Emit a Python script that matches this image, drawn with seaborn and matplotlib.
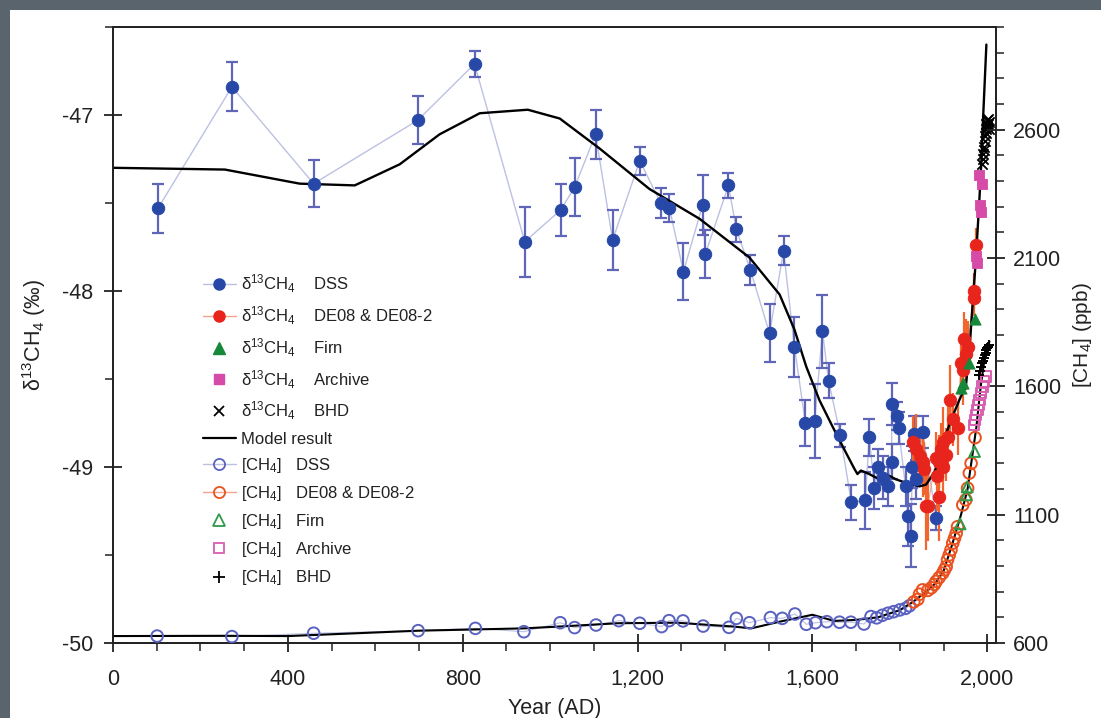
import numpy as np
import pandas as pd
import matplotlib
matplotlib.use("Agg")
import matplotlib.pyplot as plt
import seaborn as sns
from matplotlib.lines import Line2D
from matplotlib.patches import Rectangle
from matplotlib.ticker import MultipleLocator, FixedLocator, FuncFormatter

# ---------------- data ----------------
# delta13C DSS (filled blue circles)
dss_year = [103, 272, 459, 697, 827, 942, 1024, 1056, 1104, 1143, 1205, 1253, 1273, 1305,
            1349, 1355, 1408, 1426, 1458, 1502, 1534, 1559, 1584, 1605, 1623, 1637, 1664,
            1689, 1721, 1730, 1742, 1750, 1762, 1772, 1781, 1782, 1793, 1797, 1813, 1818,
            1826, 1828, 1832, 1837, 1852, 1883]
dss_d13c = [-47.53, -46.84, -47.39, -47.03, -46.71, -47.72, -47.54, -47.41, -47.11, -47.71,
            -47.26, -47.50, -47.53, -47.89, -47.51, -47.79, -47.40, -47.65, -47.88, -48.24,
            -47.77, -48.32, -48.75, -48.74, -48.23, -48.51, -48.82, -49.20, -49.19, -48.83,
            -49.12, -49.00, -49.06, -49.11, -48.97, -48.64, -48.71, -48.78, -49.11, -49.28,
            -49.39, -49.00, -48.81, -49.07, -48.80, -49.29]
dss_err = [0.14, 0.14, 0.135, 0.137, 0.074, 0.20, 0.15, 0.165, 0.14, 0.17, 0.08, 0.085,
           0.08, 0.16, 0.17, 0.135, 0.07, 0.07, 0.085, 0.165, 0.08, 0.17, 0.13, 0.21, 0.21,
           0.10, 0.065, 0.10, 0.16, 0.105, 0.12, 0.10, 0.12, 0.11, 0.10, 0.12, 0.08, 0.09,
           0.11, 0.17, 0.18, 0.12, 0.10, 0.11, 0.09, 0.07]

# delta13C DE08 & DE08-2 (filled red circles)
de08_year = [1829, 1837, 1845, 1852, 1856, 1860, 1864, 1883, 1886, 1889, 1890, 1894, 1898,
             1898, 1905, 1911, 1915, 1921, 1932, 1940, 1944, 1947, 1951, 1955, 1970, 1970, 1974]
de08_d13c = [-48.86, -48.90, -48.94, -48.97, -49.01, -49.22, -49.22, -48.95, -49.05, -48.97,
             -49.17, -48.90, -48.86, -49.00, -48.93, -48.83, -48.62, -48.73, -48.78, -48.41,
             -48.45, -48.27, -48.36, -48.32, -48.00, -48.04, -47.74]
de08_err = [0.15, 0.20, 0.15, 0.20, 0.15, 0.25, 0.20, 0.15, 0.20, 0.15, 0.25, 0.15, 0.20,
            0.15, 0.15, 0.20, 0.20, 0.15, 0.15, 0.15, 0.20, 0.15, 0.20, 0.15, 0.10, 0.10, 0.10]

# delta13C Firn (filled green triangles)
firn_year = [1940, 1944, 1958, 1973]
firn_d13c = [-48.55, -48.52, -48.41, -48.16]

# delta13C Archive (filled pink squares)
arch_year = [1974, 1976, 1982, 1984, 1985, 1989]
arch_d13c = [-47.80, -47.84, -47.34, -47.51, -47.55, -47.39]

# delta13C BHD (black x)
bhd_year = [1989, 1990, 1991, 1992, 1993, 1994, 1995, 1996, 1997, 1998, 1999, 2000, 2001,
            2002, 2003, 2004]
bhd_d13c = [-47.28, -47.25, -47.22, -47.20, -47.18, -47.15, -47.12, -47.10, -47.08, -47.05,
            -47.03, -47.06, -47.02, -47.05, -47.08, -47.04]

# Model result delta13C
mod_year = [0, 256, 427, 553, 656, 747, 839, 949, 1022, 1113, 1227, 1342, 1456, 1525, 1559,
            1586, 1616, 1646, 1677, 1696, 1703, 1711, 1730, 1753, 1776, 1791, 1814, 1845,
            1860, 1879, 1890, 1906, 1921, 1936, 1951, 1959, 1966, 1974, 1982, 1986, 1989, 1998]
mod_d13c = [-47.30, -47.31, -47.39, -47.40, -47.28, -47.11, -46.99, -46.97, -47.02, -47.19,
            -47.42, -47.59, -47.81, -48.02, -48.22, -48.43, -48.62, -48.77, -48.92, -49.01,
            -49.04, -49.02, -49.04, -49.07, -49.05, -49.07, -49.09, -49.11, -49.10, -49.03,
            -48.96, -48.81, -48.71, -48.62, -48.54, -48.35, -48.09, -47.82, -47.48, -47.29,
            -47.10, -46.60]

# [CH4] DSS (open blue circles)
ch4_dss_year = [101, 272, 459, 698, 829, 940, 1023, 1056, 1105, 1157, 1205, 1255, 1272, 1304,
                1350, 1409, 1426, 1456, 1504, 1531, 1560, 1586, 1607, 1633, 1662, 1688, 1718,
                1734, 1747, 1760, 1773, 1786, 1800, 1813, 1822]
ch4_dss = [627, 625, 638, 648, 657, 644, 679, 660, 670, 687, 677, 664, 687, 686, 666, 661,
           696, 679, 699, 696, 713, 673, 679, 683, 681, 681, 674, 703, 698, 708, 716, 722,
           729, 735, 745]

# [CH4] DE08 & DE08-2 (open red circles)
ch4_de08_year = [1832, 1841, 1845, 1852, 1864, 1872, 1879, 1883, 1890, 1898, 1902, 1906, 1909,
                 1913, 1917, 1921, 1925, 1929, 1932, 1944, 1951, 1955, 1959, 1963, 1972]
ch4_de08 = [760, 770, 790, 807, 805, 815, 828, 840, 855, 872, 885, 897, 924, 943, 963, 989,
            1008, 1028, 1053, 1138, 1158, 1203, 1262, 1300, 1400]

# [CH4] Firn (open green triangles)
ch4_firn_year = [1938, 1952, 1954, 1971]
ch4_firn = [1064, 1177, 1208, 1346]

# [CH4] Archive (open pink squares)
ch4_arch_year = [1970, 1972, 1975, 1978, 1980, 1982, 1985, 1989, 1993, 1997]
ch4_arch = [1450, 1469, 1489, 1508, 1528, 1547, 1574, 1599, 1619, 1638]

# [CH4] BHD (black +)
ch4_bhd_year = [1982, 1984, 1986, 1988, 1990, 1992, 1994, 1996, 1998, 2000, 2002, 2004]
ch4_bhd = [1645, 1660, 1675, 1690, 1700, 1712, 1722, 1730, 1740, 1748, 1755, 1762]

# Model result [CH4]
mod_ch4_year = [0, 250, 400, 700, 940, 1020, 1155, 1290, 1420, 1460, 1525, 1600, 1650, 1700,
                1750, 1800, 1830, 1860, 1880, 1900, 1920, 1940, 1955, 1965, 1975, 1985, 1995, 2005]
mod_ch4 = [627, 628, 627, 648, 657, 664, 677, 679, 664, 657, 683, 710, 686, 690, 700, 728,
           760, 800, 830, 880, 985, 1100, 1200, 1320, 1440, 1600, 1720, 1775]

# tick labels
x_ticks = [0, 400, 800, 1200, 1600, 2000]
yl_ticks = [-50, -49, -48, -47]
yr_ticks = [600, 1100, 1600, 2100, 2600]

# ---------------- style ----------------
sns.set_theme(style="ticks")
plt.rcParams['font.family'] = ['Liberation Sans', 'DejaVu Sans']
plt.rcParams['mathtext.fontset'] = 'custom'
plt.rcParams['mathtext.rm'] = 'Liberation Sans'
plt.rcParams['mathtext.it'] = 'Liberation Sans:italic'
plt.rcParams['mathtext.bf'] = 'Liberation Sans:bold'
plt.rcParams['axes.unicode_minus'] = False

C_BLUE = '#2848a8'
C_BLUE_ERR = '#5f66b8'
C_BLUE_LINE = '#bcc1e2'
C_RED = '#e8251d'
C_RED_ERR = '#f2652e'
C_RED_LINE = '#f4a48a'
C_GREEN = '#17873a'
C_PINK = '#d64aa8'
C_OPEN_BLUE = '#5a62c0'
C_OPEN_RED = '#e9521f'
C_OPEN_GREEN = '#2f9a4a'
C_OPEN_PINK = '#d860b0'

W, H = 1101, 718
fig = plt.figure(figsize=(W / 100, H / 100), dpi=100, facecolor='#5a646d')
fig.add_artist(Rectangle((10 / W, 0), 1, (H - 10) / H, transform=fig.transFigure,
                         facecolor='white', edgecolor='none', zorder=-10))

ax = fig.add_axes([113 / W, 1 - 643 / H, (996 - 113) / W, (643 - 27) / H])
ax.set_facecolor('white')
ax2 = ax.twinx()

# ---------- delta13C (left axis) ----------
ax.plot(dss_year, dss_d13c, color=C_BLUE_LINE, lw=1.0, zorder=1)
ax.plot(de08_year, de08_d13c, color=C_RED_LINE, lw=0.8, zorder=1)
sns.lineplot(x=mod_year, y=mod_d13c, ax=ax, color='black', lw=1.7, sort=False,
             estimator=None, zorder=3)
ax.errorbar(dss_year, dss_d13c, yerr=dss_err, fmt='none', ecolor=C_BLUE_ERR,
            elinewidth=1.6, capsize=4.5, capthick=1.6, zorder=2)
ax.errorbar(de08_year, de08_d13c, yerr=de08_err, fmt='none', ecolor=C_RED_ERR,
            elinewidth=1.6, capsize=0, zorder=2)
sns.scatterplot(x=dss_year, y=dss_d13c, ax=ax, color=C_BLUE, edgecolor=C_BLUE, s=80,
                marker='o', zorder=4)
sns.scatterplot(x=de08_year, y=de08_d13c, ax=ax, color=C_RED, edgecolor=C_RED, s=80,
                marker='o', zorder=4)
sns.scatterplot(x=firn_year, y=firn_d13c, ax=ax, color=C_GREEN, edgecolor=C_GREEN, s=65,
                marker='^', zorder=5)
sns.scatterplot(x=arch_year, y=arch_d13c, ax=ax, color=C_PINK, edgecolor=C_PINK, s=60,
                marker='s', zorder=5)
sns.scatterplot(x=bhd_year, y=bhd_d13c, ax=ax, color='black', s=55, marker='x',
                linewidth=1.3, zorder=6)

# ---------- [CH4] (right axis) ----------
ax2.plot(ch4_dss_year, ch4_dss, color=C_BLUE_LINE, lw=0.8, zorder=1)
sns.lineplot(x=mod_ch4_year, y=mod_ch4, ax=ax2, color='black', lw=1.5, sort=False,
             estimator=None, zorder=2)
sns.scatterplot(x=ch4_dss_year, y=ch4_dss, ax=ax2, color=C_OPEN_BLUE, facecolors='none',
                edgecolors=C_OPEN_BLUE, s=70, marker='o', linewidth=1.4, zorder=3)
sns.scatterplot(x=ch4_de08_year, y=ch4_de08, ax=ax2, color=C_OPEN_RED, facecolors='none',
                edgecolors=C_OPEN_RED, s=70, marker='o', linewidth=1.4, zorder=3)
sns.scatterplot(x=ch4_firn_year, y=ch4_firn, ax=ax2, color=C_OPEN_GREEN, facecolors='none',
                edgecolors=C_OPEN_GREEN, s=60, marker='^', linewidth=1.4, zorder=4)
sns.scatterplot(x=ch4_arch_year, y=ch4_arch, ax=ax2, color=C_OPEN_PINK, facecolors='none',
                edgecolors=C_OPEN_PINK, s=55, marker='s', linewidth=1.4, zorder=4)
sns.scatterplot(x=ch4_bhd_year, y=ch4_bhd, ax=ax2, color='black', s=60, marker='+',
                linewidth=1.4, zorder=5)

# ---------- axes ----------
ax.set_xlim(0, 2020)
ax.set_ylim(-50, -46.5)
ax2.set_ylim(600, 3000)
ax.xaxis.set_major_locator(FixedLocator(x_ticks))
ax.xaxis.set_minor_locator(MultipleLocator(100))
ax.xaxis.set_major_formatter(FuncFormatter(lambda v, p: f"{int(v):,}"))
ax.yaxis.set_major_locator(FixedLocator(yl_ticks))
ax.yaxis.set_minor_locator(MultipleLocator(0.5))
ax.yaxis.set_major_formatter(FuncFormatter(lambda v, p: f"{int(round(v))}"))
ax2.yaxis.set_major_locator(FixedLocator(yr_ticks))
ax2.yaxis.set_minor_locator(MultipleLocator(100))

for a in (ax, ax2):
    for s in a.spines.values():
        s.set_linewidth(1.3)
        s.set_color('#222222')
ax.tick_params(which='major', direction='inout', length=13, width=1.3, labelsize=15.5,
               colors='#222222', pad=8)
ax.tick_params(which='minor', direction='out', length=6, width=1.1, colors='#222222')
ax.tick_params(axis='x', which='major', pad=12)
ax2.tick_params(which='major', direction='inout', length=13, width=1.3, labelsize=15.5,
                colors='#222222', pad=6)
ax2.tick_params(which='minor', direction='out', length=6, width=1.1, colors='#222222')

ax.set_xlabel("Year (AD)", fontsize=15.5, color='#222222', labelpad=6)
ax.set_ylabel("δ$^{13}$CH$_4$ (‰)", fontsize=15.5, color='#222222', labelpad=10)
ax2.set_ylabel("[CH$_4$] (ppb)", fontsize=15, color='#222222', labelpad=7)

# ---------- legend ----------
handles = [
    Line2D([], [], color=C_BLUE_LINE, lw=1, marker='o', ms=8, mfc=C_BLUE, mec=C_BLUE),
    Line2D([], [], color=C_RED_LINE, lw=1, marker='o', ms=8, mfc=C_RED, mec=C_RED),
    Line2D([], [], ls='', marker='^', ms=8, mfc=C_GREEN, mec=C_GREEN),
    Line2D([], [], ls='', marker='s', ms=7, mfc=C_PINK, mec=C_PINK),
    Line2D([], [], ls='', marker='x', ms=7, color='black', mew=1.3),
    Line2D([], [], color='black', lw=1.6),
    Line2D([], [], color=C_BLUE_LINE, lw=1, marker='o', ms=8, mfc='none', mec=C_OPEN_BLUE, mew=1.3),
    Line2D([], [], color=C_RED_LINE, lw=1, marker='o', ms=8, mfc='none', mec=C_OPEN_RED, mew=1.3),
    Line2D([], [], ls='', marker='^', ms=8, mfc='none', mec=C_OPEN_GREEN, mew=1.3),
    Line2D([], [], ls='', marker='s', ms=7, mfc='none', mec=C_OPEN_PINK, mew=1.3),
    Line2D([], [], ls='', marker='+', ms=8, color='black', mew=1.3),
]
d = "δ$^{13}$CH$_4$"
c = "[CH$_4$]"
labels = [d + "    DSS", d + "    DE08 & DE08-2", d + "    Firn", d + "    Archive",
          d + "    BHD", "Model result", c + "   DSS", c + "   DE08 & DE08-2", c + "   Firn",
          c + "   Archive", c + "   BHD"]
leg = ax2.legend(handles, labels, loc='upper left', bbox_to_anchor=(0.094, 0.612),
                 frameon=False, fontsize=12, handlelength=2.0, handletextpad=0.3,
                 labelspacing=0.55, borderaxespad=0)
for t in leg.get_texts():
    t.set_color('#222222')

fig.savefig("out.png", dpi=100, facecolor=fig.get_facecolor())
